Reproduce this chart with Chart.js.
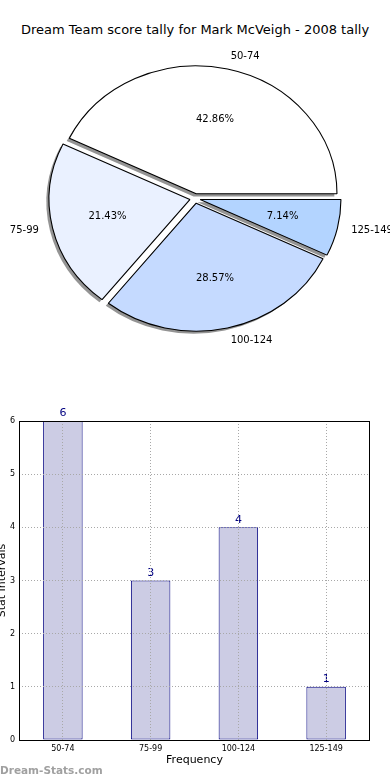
<!DOCTYPE html>
<html>
<head>
<meta charset="utf-8">
<script src="https://cdn.jsdelivr.net/npm/chart.js@4"></script>
<style>
  body { margin: 0; width: 390px; height: 780px; background: #fff; position: relative; overflow: hidden; font-family: "DejaVu Sans", sans-serif; }
  #title { position: absolute; top: 22px; left: 0; width: 390px; text-align: center; font-size: 13px; color: #000; }
  #pie { position: absolute; top: 0; left: 0; }
  #bar { position: absolute; top: 400px; left: -4px; }
  #mark { position: absolute; left: 0; top: 764px; font-size: 10.5px; font-weight: bold; color: #a0a0a0; }
</style>
</head>
<body>
<div id="title">Dream Team score tally for Mark McVeigh - 2008 tally</div>
<canvas id="pie" width="390" height="397"></canvas>
<canvas id="bar" width="394" height="380"></canvas>
<div id="mark">Dream-Stats.com</div>
<script>
// score intervals and how many games fell in each
const categories = ["50-74", "75-99", "100-124", "125-149"];
const counts = [6, 3, 4, 1];
const yTicks = [0, 1, 2, 3, 4, 5, 6];
const sliceColors = ["#ffffff", "#eaf1ff", "#c5daff", "#b3d4ff"];

Chart.defaults.font.family = "'DejaVu Sans', sans-serif";
Chart.defaults.color = "#000";

const total = counts.reduce((a, b) => a + b, 0);

// pie is drawn clockwise in chart.js, so feed it in reverse from 3 o'clock
const pieLabels = categories.slice().reverse();
const pieValues = counts.slice().reverse();
const pieColors = sliceColors.slice().reverse();
const stretchX = 1.1;
const explode = 4.8;

const pieDecor = {
  id: "pieDecor",
  beforeDatasetsDraw(chart) {
    const ctx = chart.ctx;
    const arcs = chart.getDatasetMeta(0).data;
    const cx = arcs[0].x, cy = arcs[0].y;
    ctx.save();
    ctx.translate(cx, cy);
    ctx.scale(stretchX, 1);
    ctx.translate(-cx, -cy);
    const drawPass = (dx, dy, shadow) => {
      arcs.forEach(el => {
        const mid = (el.startAngle + el.endAngle) / 2;
        const o = el.options;
        const bg = o.backgroundColor, bc = o.borderColor;
        if (shadow) {
          o.backgroundColor = "rgba(60,60,60,0.55)";
          o.borderColor = "rgba(0,0,0,0)";
        }
        ctx.save();
        ctx.translate(Math.cos(mid) * explode + dx, Math.sin(mid) * explode + dy);
        el.draw(ctx);
        ctx.restore();
        o.backgroundColor = bg;
        o.borderColor = bc;
      });
    };
    // shadows first, behind every wedge
    drawPass(-2.6 / stretchX, 2.6, true);
    drawPass(0, 0, false);
    ctx.restore();
    return false;
  },
  afterDraw(chart) {
    const ctx = chart.ctx;
    const arcs = chart.getDatasetMeta(0).data;
    ctx.save();
    ctx.fillStyle = "#000";
    ctx.font = "10px 'DejaVu Sans'";
    ctx.textBaseline = "middle";
    arcs.forEach((el, i) => {
      const mid = (el.startAngle + el.endAngle) / 2;
      const r = el.outerRadius;
      const cos = Math.cos(mid), sin = Math.sin(mid);
      const pd = 0.6 * r + explode;
      ctx.textAlign = "center";
      ctx.fillText((pieValues[i] / total * 100).toFixed(2) + "%", el.x + stretchX * cos * pd, el.y + sin * pd);
      const ld = 1.1 * r + explode;
      ctx.textAlign = cos > 0 ? "left" : "right";
      ctx.fillText(pieLabels[i], el.x + stretchX * cos * ld, el.y + sin * ld);
    });
    ctx.restore();
  }
};

new Chart(document.getElementById("pie"), {
  type: "pie",
  data: {
    labels: pieLabels,
    datasets: [{
      data: pieValues,
      backgroundColor: pieColors,
      borderColor: "#000",
      borderWidth: 1,
      clip: false
    }]
  },
  options: {
    responsive: false,
    animation: false,
    radius: 128,
    rotation: 90,
    events: [],
    plugins: { legend: { display: false }, tooltip: { enabled: false } }
  },
  plugins: [pieDecor]
});

const barDecor = {
  id: "barDecor",
  afterDatasetsDraw(chart) {
    const ctx = chart.ctx;
    ctx.save();
    ctx.fillStyle = "#000080";
    ctx.font = "11px 'DejaVu Sans'";
    ctx.textAlign = "center";
    ctx.textBaseline = "bottom";
    chart.getDatasetMeta(0).data.forEach((el, i) => {
      ctx.fillText(String(counts[i]), el.x, el.y - 2);
    });
    ctx.restore();
  },
  afterDraw(chart) {
    const a = chart.chartArea, ctx = chart.ctx;
    ctx.save();
    ctx.strokeStyle = "#000";
    ctx.lineWidth = 1;
    ctx.strokeRect(Math.round(a.left) + 0.5, Math.round(a.top) + 0.5, Math.round(a.right - a.left) - 1, Math.round(a.bottom - a.top));
    ctx.restore();
  }
};

new Chart(document.getElementById("bar"), {
  type: "bar",
  data: {
    labels: categories,
    datasets: [{
      data: counts,
      backgroundColor: "#cccce4",
      borderColor: "#000080",
      borderWidth: 1,
      borderSkipped: false,
      categoryPercentage: 1,
      barPercentage: 0.45
    }]
  },
  options: {
    responsive: false,
    animation: false,
    events: [],
    layout: { padding: { top: 21, right: 20, left: 0, bottom: 0 } },
    plugins: { legend: { display: false }, tooltip: { enabled: false } },
    scales: {
      x: {
        grid: { offset: false, z: 1, color: "#a8a8a8", drawTicks: false },
        border: { display: false, dash: [1, 2] },
        ticks: { font: { size: 8 }, padding: 4 },
        title: { display: true, text: "Frequency", font: { size: 11 }, padding: { top: 0, bottom: 13 } },
        afterFit(s) { s.height = 40; }
      },
      y: {
        min: yTicks[0],
        max: yTicks[yTicks.length - 1],
        grid: { z: 1, color: "#a8a8a8", drawTicks: false },
        border: { display: false, dash: [1, 2] },
        ticks: { stepSize: 1, font: { size: 8 }, padding: 4 },
        title: { display: true, text: "Stat Intervals", font: { size: 11 }, padding: { top: 0, bottom: 0 } },
        afterFit(s) { s.width = 23; }
      }
    }
  },
  plugins: [barDecor]
});
</script>
</body>
</html>
